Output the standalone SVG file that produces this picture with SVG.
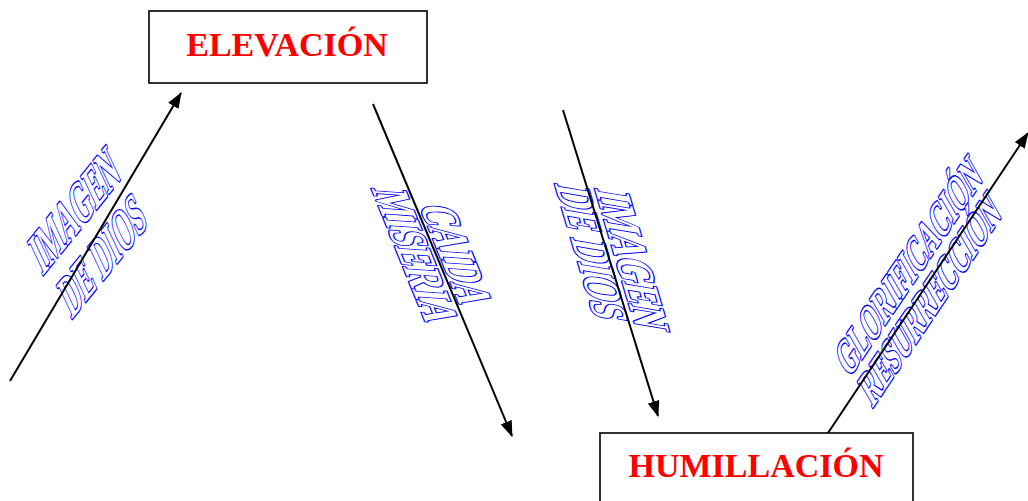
<svg xmlns="http://www.w3.org/2000/svg" width="1028" height="501" viewBox="0 0 1028 501">
<defs>
<style>
.box{fill:#fff;stroke:#000;stroke-width:1.6}
.title{font-family:"Liberation Serif","Times New Roman",serif;font-weight:bold;font-size:34px;fill:#f00;text-anchor:middle}
.wa{font-family:"Liberation Serif","Times New Roman",serif;font-weight:bold;fill:#fff;stroke:#00f;stroke-width:2.6;paint-order:stroke;text-anchor:middle;stroke-linejoin:round}
.conn{stroke:#000;stroke-width:2;fill:none}
</style>
<marker id="ah" viewBox="0 0 16 12" refX="15" refY="6" markerWidth="16" markerHeight="12" orient="auto" markerUnits="userSpaceOnUse"><path d="M0,0 L16,6 L0,12 z" fill="#000"/></marker>
</defs>
<rect width="1028" height="501" fill="#fff"/>
<g id="node-elevacion">
<rect class="box" x="149" y="11" width="278" height="72"/>
<text class="title" x="287" y="56">ELEVACIÓN</text>
</g>
<g id="node-humillacion">
<rect class="box" x="600" y="433" width="313" height="90"/>
<text class="title" x="756" y="477">HUMILLACIÓN</text>
</g>
<g id="labels">
<g transform="translate(82,227) rotate(-51) skewX(-26)">
<text class="wa" font-size="50" transform="scale(0.6,1)"><tspan x="0" y="0">IMAGEN</tspan><tspan x="12" y="50">DE DIOS</tspan></text>
</g>
<g transform="translate(439,254) rotate(68) skewX(-26)">
<text class="wa" font-size="47" transform="scale(0.7,1)"><tspan x="0" y="0">CAIDA</tspan><tspan x="6" y="38">MISERIA</tspan></text>
</g>
<g transform="translate(615,257) rotate(73.5) skewX(-26)">
<text class="wa" font-size="47" transform="scale(0.73,1)"><tspan x="0" y="0">IMAGEN</tspan><tspan x="0" y="37">DE DIOS</tspan></text>
</g>
<g transform="translate(916,279) rotate(-56) skewX(-26)">
<text class="wa" font-size="41" transform="scale(0.7,1)"><tspan x="0" y="0">GLORIFICACIÓN</tspan><tspan x="3" y="36">RESURRECCIÓN</tspan></text>
</g>
</g>
<g id="connectors">
<line class="conn" x1="10" y1="381" x2="181" y2="93" marker-end="url(#ah)"/>
<line class="conn" x1="373" y1="104" x2="512" y2="436" marker-end="url(#ah)"/>
<line class="conn" x1="563" y1="110" x2="658" y2="416" marker-end="url(#ah)"/>
<line class="conn" x1="828" y1="433" x2="1028" y2="133" marker-end="url(#ah)"/>
</g>
</svg>
